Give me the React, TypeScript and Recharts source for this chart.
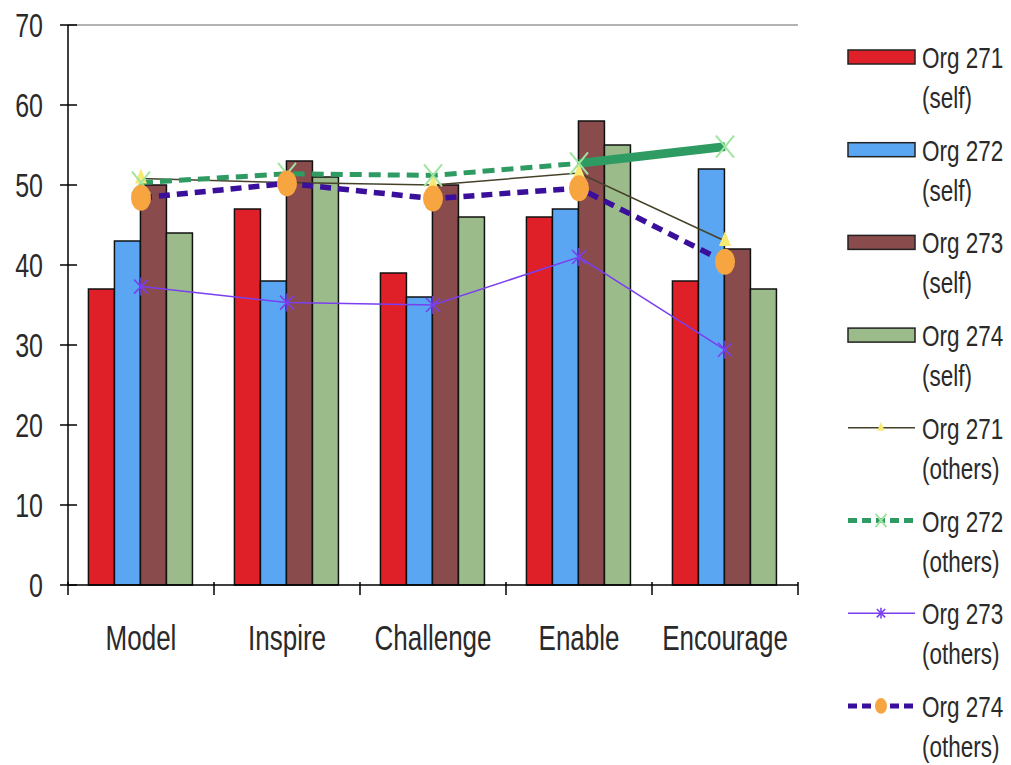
import React from "react";
import {
    ComposedChart,
    Bar,
    Line,
    XAxis,
    YAxis,
    ReferenceLine,
} from "recharts";

// practice scores per leadership category
const categories = ["Model", "Inspire", "Challenge", "Enable", "Encourage"];

const org271Self = [37, 47, 39, 46, 38];
const org272Self = [43, 38, 36, 47, 52];
const org273Self = [50, 53, 50, 58, 42];
const org274Self = [44, 51, 46, 55, 37];

const org271Others = [50.8, 50.3, 50, 51.5, 43];
const org272Others = [50.3, 51.4, 51.2, 52.7, 54.8];
const org273Others = [37.3, 35.3, 35, 41, 29.4];
const org274Others = [48.4, 50.2, 48.3, 49.6, 40.4];

const orgNames = ["Org 271", "Org 272", "Org 273", "Org 274"];
const groupNames = ["(self)", "(others)"];
const yTicks = [0, 10, 20, 30, 40, 50, 60, 70];

const chartData = categories.map((category, i) => ({
    category,
    s271: org271Self[i],
    s272: org272Self[i],
    s273: org273Self[i],
    s274: org274Self[i],
    o271: org271Others[i],
    o272: org272Others[i],
    // last segment of Org 272 is drawn solid and heavy
    o272tail: i >= categories.length - 2 ? org272Others[i] : null,
    o273: org273Others[i],
    o274: org274Others[i],
}));

const FONT = "'Liberation Sans', Arial, sans-serif";
const STRETCH = 1.35;
const TEXT = "#2a2a2a";
const PLOT_W = 730;

const RED = "#df2029";
const BLUE = "#5aa6f2";
const BROWN = "#8a4b4c";
const GREEN = "#9cbb8b";
const OLIVE = "#45422a";
const TEAL = "#2e9b63";
const VIOLET = "#7a3ff0";
const INDIGO = "#3a0f9c";

const TallText = ({ x, y, size, anchor, children }: any) => (
    <text
        transform={`translate(${x},${y}) scale(1,${STRETCH})`}
        fontFamily={FONT}
        fontSize={size}
        textAnchor={anchor}
        fill={TEXT}
    >
        {children}
    </text>
);

// marker shapes; k scales them down for the legend
const TriangleDot = ({ cx, cy, k = 1 }: any) =>
    cx == null || cy == null ? <g /> : (
        <polygon
            points={`${cx},${cy - 10 * k} ${cx - 6 * k},${cy + 5 * k} ${cx + 6 * k},${cy + 5 * k}`}
            fill="#f7ea74"
        />
    );

const CrossDot = ({ cx, cy, k = 1 }: any) =>
    cx == null || cy == null ? <g /> : (
        <g stroke="#9fe59f" strokeWidth={2}>
            <line x1={cx - 9 * k} y1={cy - 11 * k} x2={cx + 9 * k} y2={cy + 11 * k} />
            <line x1={cx - 9 * k} y1={cy + 11 * k} x2={cx + 9 * k} y2={cy - 11 * k} />
        </g>
    );

const StarDot = ({ cx, cy, k = 1 }: any) =>
    cx == null || cy == null ? <g /> : (
        <g stroke={VIOLET} strokeWidth={1.6}>
            <line x1={cx} y1={cy - 9 * k} x2={cx} y2={cy + 9 * k} />
            <line x1={cx - 7 * k} y1={cy - 7 * k} x2={cx + 7 * k} y2={cy + 7 * k} />
            <line x1={cx - 7 * k} y1={cy + 7 * k} x2={cx + 7 * k} y2={cy - 7 * k} />
        </g>
    );

const OvalDot = ({ cx, cy, k = 1 }: any) =>
    cx == null || cy == null ? <g /> : (
        <ellipse cx={cx} cy={cy} rx={10 * k} ry={13 * k} fill="#f7a541" />
    );

// Excel-style ticks sit between categories
const XTick = ({ x, y, payload, index }: any) => {
    const half = PLOT_W / categories.length / 2;
    return (
        <g>
            <line x1={x - half} x2={x - half} y1={y - 3} y2={y + 10} stroke="#000" strokeWidth={1.5} />
            {index === categories.length - 1 && (
                <line x1={x + half} x2={x + half} y1={y - 3} y2={y + 10} stroke="#000" strokeWidth={1.5} />
            )}
            <TallText x={x} y={y + 65} size={26} anchor="middle">
                {payload.value}
            </TallText>
        </g>
    );
};

const YTick = ({ x, y, payload }: any) => (
    <g>
        <line x1={x - 8} x2={x + 9} y1={y} y2={y} stroke="#000" strokeWidth={1.5} />
        <TallText x={x - 25} y={y + 12} size={25} anchor="end">
            {payload.value}
        </TallText>
    </g>
);

const barSwatch = (fill: string) => (y: number) =>
    <rect x={8} y={y - 7} width={67} height={14} fill={fill} stroke="#222" strokeWidth={1.5} />;

const lineSwatch = (stroke: string, width: number, dash: string | undefined, Dot: any) => (y: number) =>
    (
        <g>
            <line x1={8} x2={75} y1={y} y2={y} stroke={stroke} strokeWidth={width} strokeDasharray={dash} />
            <Dot cx={41} cy={y} k={0.6} />
        </g>
    );

const swatches = [
    barSwatch(RED),
    barSwatch(BLUE),
    barSwatch(BROWN),
    barSwatch(GREEN),
    lineSwatch(OLIVE, 1.5, undefined, TriangleDot),
    lineSwatch(TEAL, 5, "9 5", CrossDot),
    lineSwatch(VIOLET, 1.5, undefined, StarDot),
    lineSwatch(INDIGO, 5, "9 5", OvalDot),
];

const SideLegend = () => (
    <svg width={171} height={765} style={{ position: "absolute", left: 840, top: 0 }}>
        {swatches.map((draw, i) => {
            const y = 57 + i * 92.7;
            const org = orgNames[i % 4];
            const group = groupNames[Math.floor(i / 4)];
            return (
                <g key={i}>
                    {draw(y)}
                    <TallText x={82} y={y + 11} size={22.5} anchor="start">
                        {org}
                    </TallText>
                    <TallText x={82} y={y + 51} size={22.5} anchor="start">
                        {group}
                    </TallText>
                </g>
            );
        })}
    </svg>
);

const App = () => {
    return (
        <div style={{ position: "absolute", left: 0, top: 0, width: 1011, height: 765, background: "#fff" }}>
            <ComposedChart
                width={1011}
                height={765}
                data={chartData}
                margin={{ top: 25, right: 213, bottom: 110, left: 0 }}
                barCategoryGap="14%"
                barGap={0}
            >
                <XAxis
                    dataKey="category"
                    height={70}
                    axisLine={{ stroke: "#000", strokeWidth: 1.5 }}
                    tickLine={false}
                    tickSize={0}
                    tickMargin={0}
                    tick={<XTick />}
                    interval={0}
                />

                <YAxis
                    width={68}
                    domain={[0, 70]}
                    ticks={yTicks}
                    axisLine={{ stroke: "#000", strokeWidth: 1.5 }}
                    tickLine={false}
                    tickSize={0}
                    tickMargin={0}
                    tick={<YTick />}
                    interval={0}
                />

                <YAxis
                    yAxisId="frame"
                    orientation="right"
                    width={0}
                    domain={[0, 70]}
                    tick={false}
                    tickLine={false}
                    axisLine={{ stroke: "#9a9a9a", strokeWidth: 1.5 }}
                />

                <ReferenceLine y={70} stroke="#9a9a9a" strokeWidth={1.5} />

                <Bar dataKey="s271" name="Org 271 (self)" fill={RED} stroke="#111" strokeWidth={1.5} isAnimationActive={false} />
                <Bar dataKey="s272" name="Org 272 (self)" fill={BLUE} stroke="#111" strokeWidth={1.5} isAnimationActive={false} />
                <Bar dataKey="s273" name="Org 273 (self)" fill={BROWN} stroke="#111" strokeWidth={1.5} isAnimationActive={false} />
                <Bar dataKey="s274" name="Org 274 (self)" fill={GREEN} stroke="#111" strokeWidth={1.5} isAnimationActive={false} />

                <Line
                    dataKey="o271"
                    name="Org 271 (others)"
                    type="linear"
                    stroke={OLIVE}
                    strokeWidth={1.5}
                    dot={<TriangleDot />}
                    activeDot={false}
                    isAnimationActive={false}
                />
                <Line
                    dataKey="o272"
                    name="Org 272 (others)"
                    type="linear"
                    stroke={TEAL}
                    strokeWidth={5}
                    strokeDasharray="12 7"
                    dot={<CrossDot />}
                    activeDot={false}
                    isAnimationActive={false}
                />
                <Line
                    dataKey="o272tail"
                    legendType="none"
                    type="linear"
                    stroke={TEAL}
                    strokeWidth={9}
                    dot={false}
                    activeDot={false}
                    connectNulls={false}
                    isAnimationActive={false}
                />
                <Line
                    dataKey="o273"
                    name="Org 273 (others)"
                    type="linear"
                    stroke={VIOLET}
                    strokeWidth={1.5}
                    dot={<StarDot />}
                    activeDot={false}
                    isAnimationActive={false}
                />
                <Line
                    dataKey="o274"
                    name="Org 274 (others)"
                    type="linear"
                    stroke={INDIGO}
                    strokeWidth={5.5}
                    strokeDasharray="11 7"
                    dot={<OvalDot />}
                    activeDot={false}
                    isAnimationActive={false}
                />
            </ComposedChart>
            <SideLegend />
        </div>
    );
};

export default App;
